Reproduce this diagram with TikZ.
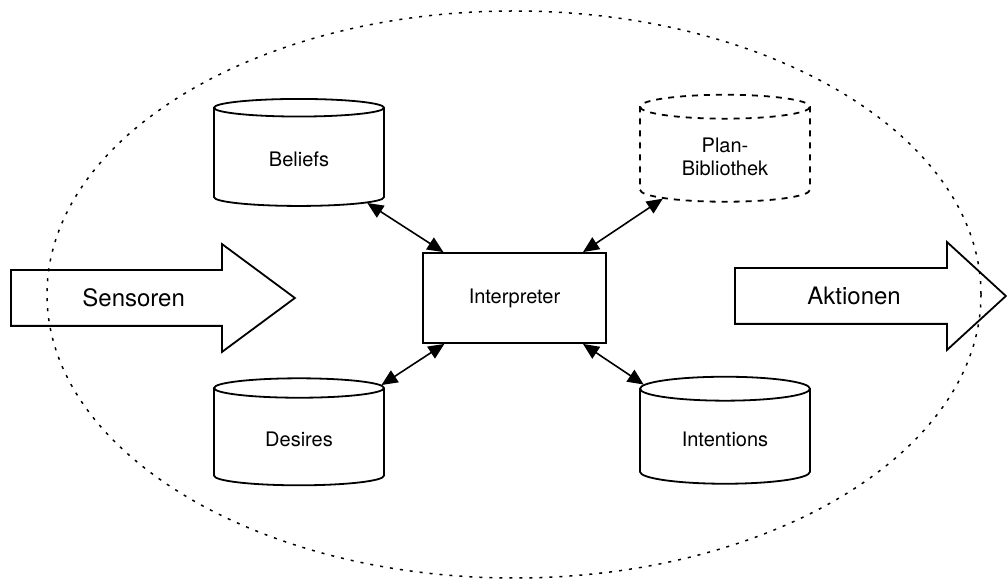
\documentclass[tikz,border=0pt]{standalone}
\usepackage{fontspec}
\setmainfont{TeX Gyre Heros}
\usetikzlibrary{shapes.geometric,shapes.arrows,arrows.meta,positioning}

\tikzset{
  store/.style={cylinder, shape border rotate=90, draw, line width=0.9pt,
    aspect=0.24, minimum width=85pt, minimum height=53.5pt,
    align=center, font=\fontsize{10}{11.5}\selectfont},
  proc/.style={rectangle, draw, line width=0.9pt, minimum width=91.5pt,
    minimum height=45pt, font=\fontsize{10}{12}\selectfont},
  flow/.style={single arrow, draw, line width=0.9pt, anchor=tail,
    inner xsep=0pt, inner ysep=13.5pt, single arrow head extend=13pt,
    minimum width=53pt},
  flowtext/.style={inner sep=0pt, font=\fontsize{12}{14}\selectfont},
  link/.style={{Triangle[length=8pt,width=7pt]}-{Triangle[length=8pt,width=7pt]},
    line width=0.8pt},
  boundary/.style={line width=0.75pt, dash pattern=on 1.5pt off 3.5pt}
}

\begin{document}
\begin{tikzpicture}[x=0.5pt, y=-0.5pt]
  \useasboundingbox (0,0) rectangle (1007,582);

  % agent boundary
  \draw[boundary] (514,294.5) ellipse [x radius=467, y radius=283.5];

  % core
  \node[proc] (interp) at (514.5,298) {Interpreter};

  % data stores
  \node[store] (beliefs) at (299,159) {Beliefs};
  \node[store, dashed] (plan) at (725,157) {Plan-\\Bibliothek};
  \node[store] (desires) at (299,439) {Desires};
  \node[store] (intentions) at (725,439) {Intentions};

  % in- and output
  \node[flow, single arrow tip angle=73, minimum height=142pt] (sensoren) at (10,298) {};
  \node[flowtext, right=36pt of sensoren.tail] (sensorentext) {Sensoren};
  \node[flow, single arrow tip angle=85, minimum height=135.5pt] (aktionen) at (734,296) {};
  \node[flowtext, right=36.5pt of aktionen.tail] (aktionentext) {Aktionen};

  % links
  \draw[link] (beliefs) -- (interp);
  \draw[link] (plan) -- (interp);
  \draw[link] (desires) -- (interp);
  \draw[link] (intentions) -- (interp);
\end{tikzpicture}
\end{document}
